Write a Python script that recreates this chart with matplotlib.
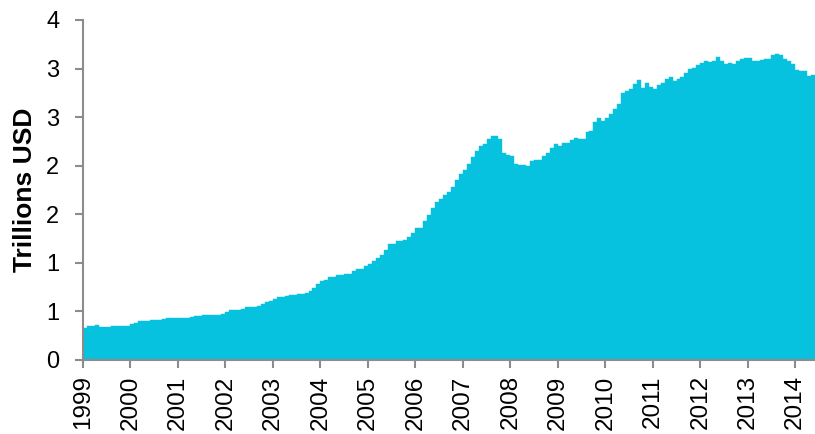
import numpy as np
import matplotlib
matplotlib.use("Agg")
import matplotlib.pyplot as plt

# monthly values, Jan 1999 .. May 2014 (trillions USD)
values = [
    # 1999
    0.33, 0.35, 0.35, 0.36, 0.34, 0.34, 0.34, 0.345, 0.345, 0.35, 0.35, 0.35,
    # 2000
    0.37, 0.38, 0.40, 0.40, 0.405, 0.41, 0.41, 0.415, 0.42, 0.43, 0.43, 0.43,
    # 2001
    0.43, 0.43, 0.435, 0.44, 0.45, 0.45, 0.46, 0.46, 0.46, 0.46, 0.46, 0.47,
    # 2002
    0.49, 0.51, 0.51, 0.51, 0.52, 0.55, 0.55, 0.55, 0.56, 0.58, 0.60, 0.61,
    # 2003
    0.63, 0.65, 0.65, 0.66, 0.67, 0.67, 0.68, 0.68, 0.69, 0.71, 0.74, 0.78,
    # 2004
    0.81, 0.82, 0.85, 0.85, 0.87, 0.87, 0.89, 0.89, 0.92, 0.94, 0.94, 0.97,
    # 2005
    0.99, 1.02, 1.05, 1.08, 1.13, 1.19, 1.19, 1.22, 1.22, 1.24, 1.27, 1.31,
    # 2006
    1.36, 1.36, 1.43, 1.49, 1.56, 1.63, 1.66, 1.70, 1.73, 1.78, 1.85, 1.91,
    # 2007
    1.96, 2.02, 2.09, 2.15, 2.20, 2.22, 2.27, 2.31, 2.31, 2.28, 2.13, 2.11,
    # 2008
    2.10, 2.02, 2.01, 2.01, 2.00, 2.05, 2.06, 2.06, 2.10, 2.13, 2.18, 2.22,
    # 2009
    2.20, 2.23, 2.23, 2.26, 2.29, 2.27, 2.28, 2.35, 2.36, 2.45, 2.49, 2.46,
    # 2010
    2.49, 2.53, 2.58, 2.64, 2.75, 2.77, 2.79, 2.84, 2.88, 2.80, 2.85, 2.81,
    # 2011
    2.79, 2.83, 2.85, 2.89, 2.91, 2.87, 2.89, 2.91, 2.95, 3.00, 3.01, 3.04,
    # 2012
    3.06, 3.08, 3.07, 3.08, 3.12, 3.08, 3.05, 3.06, 3.05, 3.08, 3.10, 3.11,
    # 2013
    3.11, 3.08, 3.08, 3.09, 3.10, 3.10, 3.14, 3.15, 3.14, 3.10, 3.08, 3.05,
    # 2014
    2.99, 2.98, 2.97, 2.92, 2.93,
]
years = list(range(1999, 2015))
y_ticks = [0, 0.5, 1, 1.5, 2, 2.5, 3, 3.5]
y_labels = ["0", "1", "1", "2", "2", "3", "3", "4"]

plt.rcParams["font.family"] = ["Liberation Sans", "DejaVu Sans"]

fig = plt.figure(figsize=(8.15, 4.34), dpi=100)
ax = fig.add_axes([83 / 815, 74 / 434, 1 - 83 / 815, 340 / 434])

months = np.arange(len(values))
ax.bar(months, values, width=1.0, align="edge", color="#06C2DE",
       edgecolor="#06C2DE", linewidth=0.3)

ax.set_xlim(0, len(values))
ax.set_ylim(0, 3.5)
ax.set_yticks(y_ticks)
ax.set_yticklabels(y_labels)
ax.set_xticks([12 * i for i in range(len(years))])
ax.set_xticklabels([str(y) for y in years], rotation=90)

for side in ["top", "right"]:
    ax.spines[side].set_visible(False)
for side in ["left", "bottom"]:
    ax.spines[side].set_color("#8c8c8c")
    ax.spines[side].set_linewidth(1.5)

ax.tick_params(axis="y", direction="out", length=6, width=1.5, color="#8c8c8c",
               labelsize=17, pad=11)
ax.tick_params(axis="x", direction="out", length=6, width=1.5, color="#8c8c8c",
               labelsize=17.5, pad=5)

ax.set_ylabel("Trillions USD", fontsize=19, fontweight="bold", labelpad=7)

fig.savefig("out.png", dpi=100)
